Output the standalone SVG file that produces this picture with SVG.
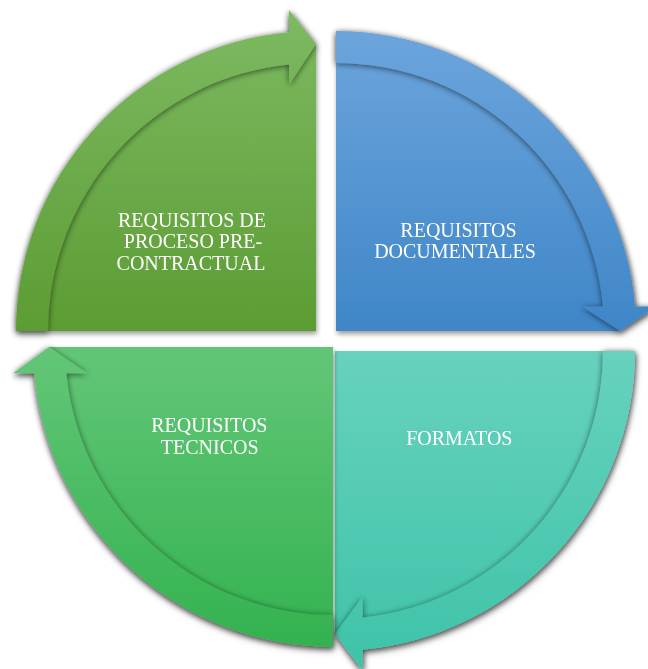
<svg xmlns="http://www.w3.org/2000/svg" width="648" height="669" viewBox="0 0 648 669">
  <defs>
    <linearGradient id="gTL" gradientUnits="userSpaceOnUse" x1="0" y1="10" x2="0" y2="331">
      <stop offset="0" stop-color="#7dba62"/>
      <stop offset="1" stop-color="#5c9c33"/>
    </linearGradient>
    <linearGradient id="gTR" gradientUnits="userSpaceOnUse" x1="0" y1="31" x2="0" y2="331">
      <stop offset="0" stop-color="#6ca5dc"/>
      <stop offset="1" stop-color="#3f86c8"/>
    </linearGradient>
    <linearGradient id="gBR" gradientUnits="userSpaceOnUse" x1="0" y1="351" x2="0" y2="669">
      <stop offset="0" stop-color="#67d2be"/>
      <stop offset="1" stop-color="#3ec3a8"/>
    </linearGradient>
    <linearGradient id="gBL" gradientUnits="userSpaceOnUse" x1="0" y1="347" x2="0" y2="647">
      <stop offset="0" stop-color="#63c677"/>
      <stop offset="1" stop-color="#33b24f"/>
    </linearGradient>
    <filter id="drop" x="-10%" y="-10%" width="120%" height="125%">
      <feGaussianBlur in="SourceAlpha" stdDeviation="2.5"/>
      <feOffset dx="1" dy="3" result="b"/>
      <feComponentTransfer><feFuncA type="linear" slope="0.4"/></feComponentTransfer>
      <feMerge><feMergeNode/><feMergeNode in="SourceGraphic"/></feMerge>
    </filter>
    <filter id="bandShadow" x="-10%" y="-10%" width="120%" height="120%">
      <feGaussianBlur in="SourceAlpha" stdDeviation="3"/>
      <feOffset dx="0" dy="1"/>
      <feComponentTransfer><feFuncA type="linear" slope="0.6"/></feComponentTransfer>
      <feMerge><feMergeNode/><feMergeNode in="SourceGraphic"/></feMerge>
    </filter>
  </defs>
  <style>
    .lbl { font-family: "Liberation Serif", "Times New Roman", serif; font-size: 20px; fill: #ffffff; text-anchor: middle; }
  </style>

  <g id="connectors">
    <!-- arrow bands are drawn inside each node group as part of the cycle -->
  </g>

  <g id="node-tl" filter="url(#drop)">
    <path d="M316,331 H30 A286,286 0 0 1 316,45 Z" fill="url(#gTL)"/>
    <path d="M16,331 A300,300 0 0 1 289,32.2 L289,10 L316,44 L289,85 L289,64.4 A268,268 0 0 0 48,331 Z" fill="url(#gTL)" filter="url(#bandShadow)"/>
    <text class="lbl" x="192" y="226.5">REQUISITOS DE</text>
    <text class="lbl" x="193" y="248.3">PROCESO PRE-</text>
    <text class="lbl" x="191" y="270.1">CONTRACTUAL</text>
  </g>

  <g id="node-tr" filter="url(#drop)">
    <path d="M336,331 V47 A284,284 0 0 1 620,331 Z" fill="url(#gTR)"/>
    <path d="M336,31 A300,300 0 0 1 635,306.5 L656,306.5 L620,331 L582,306.5 L603,306.5 A268,268 0 0 0 336,63 Z" fill="url(#gTR)" filter="url(#bandShadow)"/>
    <text class="lbl" x="458.5" y="236.6">REQUISITOS</text>
    <text class="lbl" x="455" y="258.4">DOCUMENTALES</text>
  </g>

  <g id="node-br" filter="url(#drop)">
    <path d="M335,351 H619 A284,284 0 0 1 335,635 Z" fill="url(#gBR)"/>
    <path d="M635,351 A300,300 0 0 1 362.7,649.7 L362.7,670.8 L335,634 L362.7,596.4 L362.7,617.6 A268,268 0 0 0 603,351 Z" fill="url(#gBR)" filter="url(#bandShadow)"/>
    <text class="lbl" x="459.3" y="445">FORMATOS</text>
  </g>

  <g id="node-bl" filter="url(#drop)">
    <path d="M333,347 V631 A284,284 0 0 1 49,347 Z" fill="url(#gBL)"/>
    <path d="M333,647 A300,300 0 0 1 34.2,373.3 L13.1,373.3 L49,347 L87.4,373.3 L66.3,373.3 A268,268 0 0 0 333,615 Z" fill="url(#gBL)" filter="url(#bandShadow)"/>
    <text class="lbl" x="209.3" y="432.4">REQUISITOS</text>
    <text class="lbl" x="209.7" y="454.2">TECNICOS</text>
  </g>
</svg>
